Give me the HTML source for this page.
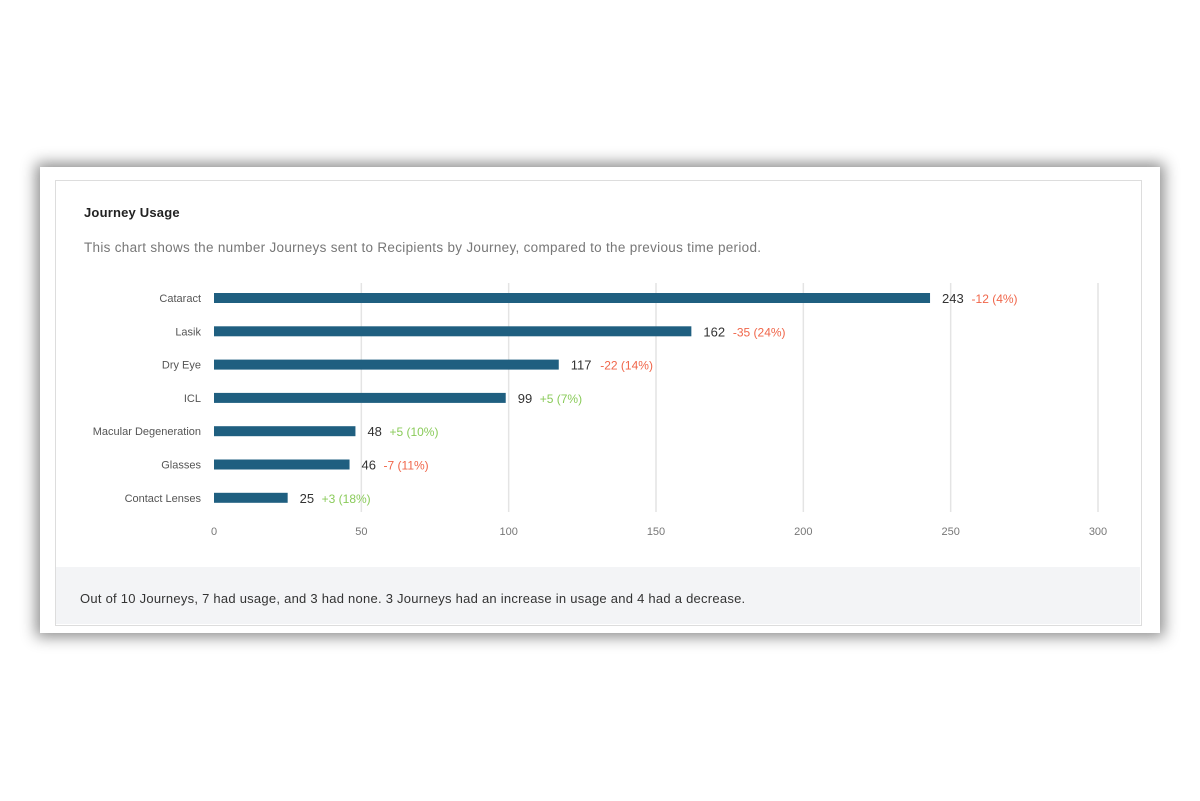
<!DOCTYPE html>
<html><head><meta charset="utf-8"><style>
body{margin:0;width:1200px;height:801px;background:#fff;font-family:"Liberation Sans",sans-serif;position:relative;overflow:hidden}
#card{position:absolute;left:40px;top:167px;width:1120px;height:466px;background:#fff;box-shadow:0 0 14px 4px rgba(0,0,0,0.45)}
#inner{position:absolute;left:55px;top:180px;width:1085px;height:444px;border:1px solid #ddd;background:#fff}
#title{position:absolute;left:84px;top:205px;font-size:13px;font-weight:bold;color:#222;letter-spacing:0.2px}
#sub{position:absolute;left:84px;top:240px;font-size:13.5px;color:#777;letter-spacing:0.3px;white-space:nowrap}
#footer{position:absolute;left:56px;top:567px;width:1084px;height:57px;background:#f3f4f6}
#ftext{position:absolute;left:80px;top:591px;font-size:13px;color:#333;letter-spacing:0.25px;white-space:nowrap}
svg{position:absolute;left:0;top:0}
</style></head><body>
<div id="card"></div>
<div id="inner"></div>
<div id="title">Journey Usage</div>
<div id="sub">This chart shows the number Journeys sent to Recipients by Journey, compared to the previous time period.</div>
<div id="footer"></div>
<div id="ftext">Out of 10 Journeys, 7 had usage, and 3 had none. 3 Journeys had an increase in usage and 4 had a decrease.</div>
<svg id="chart" width="1200" height="801"></svg>
<script>
const categories=["Cataract","Lasik","Dry Eye","ICL","Macular Degeneration","Glasses","Contact Lenses"];
const values=[243,162,117,99,48,46,25];
const changes=["-12 (4%)","-35 (24%)","-22 (14%)","+5 (7%)","+5 (10%)","-7 (11%)","+3 (18%)"];
const ticks=[0,50,100,150,200,250,300];
const ns="http://www.w3.org/2000/svg";
const svg=document.getElementById('chart');
const x0=214,x1=1098,maxV=300;
const xs=v=>x0+(x1-x0)*v/maxV;
const ys=i=>298+i*33.3;
function mk(t,a){const e=document.createElementNS(ns,t);for(const k in a)e.setAttribute(k,a[k]);svg.appendChild(e);return e;}
ticks.forEach((t,i)=>{
  if(i>0){const g=mk('line',{x1:xs(t),x2:xs(t),y1:283,y2:512,stroke:'#e4e4e4','stroke-width':1.5});
  
  }
  const l=mk('text',{x:xs(t),y:535,'text-anchor':'middle','font-size':11,fill:'#777'});l.textContent=t;
  
  
});
categories.forEach((c,i)=>{
  const y=ys(i);
  const lab=mk('text',{x:201,y:y+4,'text-anchor':'end','font-size':11,fill:'#555'});lab.textContent=c;
  
  
  const b=mk('rect',{x:x0,y:y-5,width:xs(values[i])-x0,height:10,fill:'#1f5f80'});
  
  
  const vx=xs(values[i])+12;
  const v=mk('text',{x:vx,y:y+5,'font-size':13,fill:'#333'});v.textContent=values[i];
  
  
  const w=String(values[i]).length*7.5;
  const ch=mk('text',{x:vx+w+7,y:y+5,'font-size':12,fill:changes[i][0]==='-'?'#f0664a':'#8acb5a'});ch.textContent=changes[i];
  
  
});
</script>
</body></html>
